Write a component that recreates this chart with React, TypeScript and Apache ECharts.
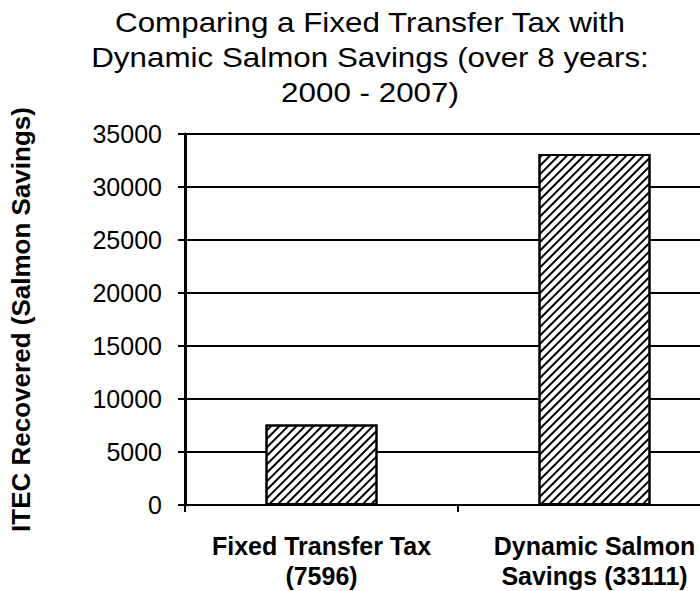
import React, { useEffect, useRef } from "react";
import * as echarts from "echarts";

const categories = ["Fixed Transfer Tax\n(7596)", "Dynamic Salmon\nSavings (33111)"];
const values = [7596, 33111];
const titleLines = ["Comparing a Fixed Transfer Tax with", "Dynamic Salmon Savings (over 8 years:", "2000 - 2007)"];
const yAxisName = "ITEC Recovered (Salmon Savings)";

const FONT = "'Liberation Sans', Arial, sans-serif";

export default function App() {
  const ref = useRef<HTMLDivElement>(null);
  useEffect(() => {
    if (!ref.current) return;
    const chart = echarts.init(ref.current, undefined, { renderer: "svg" });
    chart.setOption({
      animation: false,
      backgroundColor: "#fff",
      textStyle: { fontFamily: FONT },
      graphic: [
        {
          type: "text",
          x: 370,
          y: 5,
          scaleX: 1.12,
          style: {
            text: titleLines.join("\n"),
            font: `28px ${FONT}`,
            fill: "#000",
            align: "center",
            verticalAlign: "top",
            lineHeight: 35,
          },
        },
      ],
      grid: { left: 179, top: 134, width: 552, height: 373, containLabel: false },
      xAxis: {
        type: "category",
        data: categories,
        axisLine: { show: true, lineStyle: { color: "#000", width: 2 } },
        axisTick: { show: true, length: 7, lineStyle: { color: "#000", width: 2 } },
        axisLabel: {
          interval: 0,
          hideOverlap: false,
          color: "#000",
          fontFamily: FONT,
          fontWeight: "bold",
          fontSize: 25,
          lineHeight: 30,
          margin: 26,
        },
      },
      yAxis: {
        type: "value",
        min: 0,
        max: 35000,
        interval: 5000,
        name: yAxisName,
        nameLocation: "middle",
        nameGap: 151,
        nameRotate: 90,
        nameTextStyle: { color: "#000", fontFamily: FONT, fontWeight: "bold", fontSize: 26 },
        axisLine: { show: true, lineStyle: { color: "#000", width: 3 } },
        axisTick: { show: true, length: 7, lineStyle: { color: "#000", width: 2 } },
        splitLine: { show: true, lineStyle: { color: "#000", width: 2 } },
        axisLabel: { color: "#000", fontFamily: FONT, fontSize: 25, margin: 23, formatter: (v: number) => String(v) },
      },
      series: [
        {
          type: "bar",
          data: values,
          barWidth: 112,
          itemStyle: {
            color: "#fff",
            borderColor: "#000",
            borderWidth: 2,
            decal: {
              symbol: "rect",
              symbolSize: 1,
              dashArrayX: [1, 0],
              dashArrayY: [2, 3.3],
              rotation: -Math.PI / 4,
              color: "#000",
              backgroundColor: "#fff",
            },
          },
        },
      ],
    });
    return () => chart.dispose();
  }, []);
  return (
    <div style={{ position: "absolute", left: 0, top: 0, width: 700, height: 591, overflow: "hidden", background: "#fff" }}>
      <div ref={ref} style={{ width: 740, height: 591 }} />
    </div>
  );
}
